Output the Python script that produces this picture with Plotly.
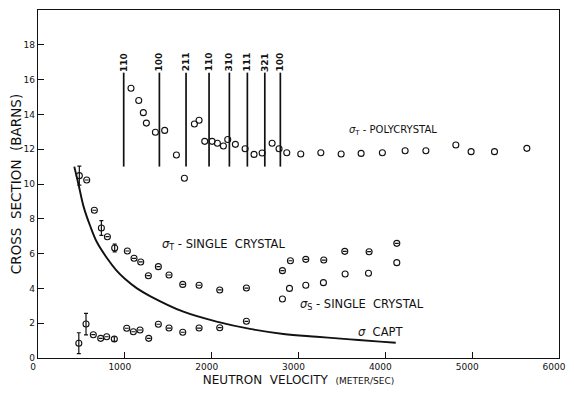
import plotly.graph_objects as go

# ---- data ----
bragg_v = [987, 1398, 1705, 1970, 2204, 2411, 2612, 2791]
bragg_labels = ["110", "100", "211", "110", "310", "111", "321", "100"]
bragg_lo, bragg_hi = 11.0, 16.4

poly_v = [1071, 1160, 1213, 1248, 1352, 1459, 1594, 1686, 1801, 1855, 1920, 2005,
          2066, 2135, 2185, 2273, 2385, 2488, 2581, 2696, 2776, 2865, 3026, 3257,
          3491, 3721, 3966, 4228, 4467, 4812, 4988, 5257, 5630]
poly_s = [15.5, 14.8, 14.1, 13.5, 12.97, 13.08, 11.67, 10.33, 13.45, 13.66, 12.45, 12.45,
          12.34, 12.18, 12.56, 12.28, 12.03, 11.7, 11.78, 12.34, 12.03, 11.8, 11.72, 11.8,
          11.72, 11.76, 11.8, 11.91, 11.91, 12.24, 11.86, 11.86, 12.05]

single_v = [476, 561, 649, 730, 799, 883, 1029, 1106, 1183, 1271, 1386, 1509, 1667,
            1855, 2093, 2400, 2815, 2907, 3084, 3291, 3533, 3813, 4132]
single_s = [10.48, 10.23, 8.49, 7.47, 6.97, 6.32, 6.15, 5.73, 5.52, 4.73, 5.25, 4.77, 4.23,
            4.18, 3.91, 4.02, 5.02, 5.59, 5.67, 5.63, 6.13, 6.11, 6.59]
single_err = [0.55, 0, 0, 0.42, 0, 0.22, 0, 0, 0, 0, 0, 0, 0,
              0, 0, 0, 0, 0, 0, 0, 0, 0, 0]

scat_v = [2815, 2896, 3084, 3287, 3537, 3806, 4132]
scat_s = [3.39, 4.0, 4.18, 4.33, 4.83, 4.87, 5.48]

low_v = [470, 553, 637, 722, 791, 879, 1022, 1098, 1175, 1275, 1386, 1509, 1667,
         1855, 2093, 2400]
low_s = [0.85, 1.95, 1.34, 1.13, 1.22, 1.09, 1.71, 1.51, 1.61, 1.13, 1.94, 1.72, 1.48,
         1.72, 1.74, 2.11]
low_err = [0.6, 0.62, 0, 0, 0, 0.13, 0, 0, 0, 0, 0, 0, 0, 0, 0, 0]

capt_v = [418, 470, 525, 600, 676, 800, 900, 1000, 1140, 1290, 1674, 2058, 2442, 2826,
          3210, 3594, 3940, 4120]
capt_s = [11.0, 9.9, 8.7, 7.6, 6.68, 5.7, 5.05, 4.55, 4.0, 3.56, 2.66, 2.09, 1.67, 1.38,
          1.22, 1.07, 0.94, 0.88]

x_ticks = [0, 1000, 2000, 3000, 4000, 5000, 6000]
y_ticks = [0, 2, 4, 6, 8, 10, 12, 14, 16, 18]

FONT = "DejaVu Sans"
INK = "#111111"

fig = go.Figure()

# Bragg edge lines
bx, by = [], []
for v in bragg_v:
    bx += [v, v, None]
    by += [bragg_lo, bragg_hi, None]
fig.add_trace(go.Scatter(x=bx, y=by, mode="lines",
                         line=dict(color=INK, width=1.7), hoverinfo="skip"))

# capture curve
fig.add_trace(go.Scatter(x=capt_v, y=capt_s, mode="lines",
                         line=dict(color=INK, width=1.9, shape="spline", smoothing=1.0)))

marker = dict(symbol="circle-open", size=6, color=INK, line=dict(width=1.1, color=INK))

fig.add_trace(go.Scatter(x=poly_v, y=poly_s, mode="markers", marker=marker))
fig.add_trace(go.Scatter(x=single_v, y=single_s, mode="markers", marker=marker,
                         error_y=dict(type="data", array=single_err, color=INK,
                                      thickness=1.2, width=2)))
fig.add_trace(go.Scatter(x=scat_v, y=scat_s, mode="markers", marker=marker))
fig.add_trace(go.Scatter(x=low_v, y=low_s, mode="markers", marker=marker,
                         error_y=dict(type="data", array=low_err, color=INK,
                                      thickness=1.2, width=2)))

annotations = []
for v, lab in zip(bragg_v, bragg_labels):
    annotations.append(dict(x=v, y=17.0, text="<b>" + lab + "</b>", textangle=-90,
                            showarrow=False, font=dict(family=FONT, size=9, color=INK)))

annotations += [
    dict(x=3560, y=13.1, text="<i>σ</i><sub>T</sub> - POLYCRYSTAL", xanchor="left",
         showarrow=False, font=dict(family=FONT, size=10, color=INK)),
    dict(x=1400, y=6.55, text="<i>σ</i><sub>T</sub> - SINGLE  CRYSTAL", xanchor="left",
         showarrow=False, font=dict(family=FONT, size=11.5, color=INK)),
    dict(x=2990, y=3.05, text="<i>σ</i><sub>S</sub> - SINGLE  CRYSTAL", xanchor="left",
         showarrow=False, font=dict(family=FONT, size=11.5, color=INK)),
    dict(x=3660, y=1.5, text="<i>σ</i>  CAPT", xanchor="left",
         showarrow=False, font=dict(family=FONT, size=11.5, color=INK)),
]

# The page places the figure 8 px from the top-left corner, so the figure is
# sized 566x392 to fill the 574x400 window.
fig.update_layout(
    width=566, height=392,
    margin=dict(l=30, r=15, t=2, b=42),
    paper_bgcolor="white", plot_bgcolor="white",
    showlegend=False,
    annotations=annotations,
    font=dict(family=FONT, color=INK),
)
fig.update_xaxes(range=[0, 6000], tickvals=x_ticks, ticks="inside", ticklen=6,
                 tickcolor=INK, showline=True, linecolor=INK, linewidth=1.3, mirror=True,
                 showgrid=False, zeroline=False, automargin=False, ticklabelshift=-5,
                 tickfont=dict(family=FONT, size=9, color=INK),
                 title=dict(text="NEUTRON  VELOCITY  <span style='font-size:9px'>(METER/SEC)</span>",
                            font=dict(family=FONT, size=12, color=INK), standoff=4))
fig.update_yaxes(range=[0, 20], tickvals=y_ticks, ticks="inside", ticklen=6,
                 tickcolor=INK, showline=True, linecolor=INK, linewidth=1.3, mirror=True,
                 showgrid=False, zeroline=False, automargin=False,
                 tickfont=dict(family=FONT, size=9, color=INK),
                 title=dict(text="CROSS  SECTION  (BARNS)",
                            font=dict(family=FONT, size=13.5, color=INK), standoff=2))

fig.write_html("out.html")
